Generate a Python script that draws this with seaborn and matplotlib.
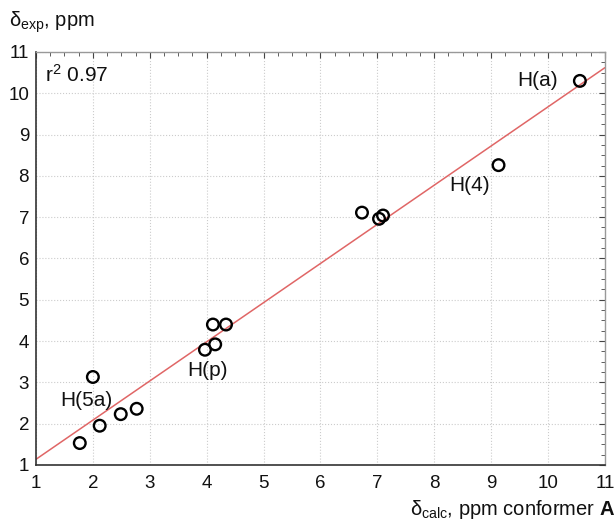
import numpy as np
import pandas as pd
import matplotlib
matplotlib.use('Agg')
import matplotlib.pyplot as plt
import seaborn as sns
from matplotlib.ticker import MultipleLocator

# calculated vs experimental shifts, ppm
delta_calc = [1.77, 2.00, 2.12, 2.49, 2.77, 3.97, 4.15, 4.11, 4.34,
              6.73, 7.03, 7.10, 9.13, 10.56]
delta_exp = [1.53, 3.13, 1.95, 2.23, 2.36, 3.79, 3.92, 4.40, 4.40,
             7.11, 6.96, 7.04, 8.26, 10.30]

label_text = ['H(a)', 'H(4)', 'H(5a)', 'H(p)']
label_x = [9.46, 8.27, 1.42, 3.66]
label_y = [10.32, 7.76, 2.57, 3.28]

sns.set_style('white')
plt.rcParams['font.family'] = ['Liberation Sans', 'DejaVu Sans']
plt.rcParams['mathtext.fontset'] = 'custom'
plt.rcParams['mathtext.rm'] = 'Liberation Sans'
plt.rcParams['mathtext.it'] = 'Liberation Sans:italic'
plt.rcParams['mathtext.bf'] = 'Liberation Sans:bold'

df = pd.DataFrame({'calc': delta_calc, 'exp': delta_exp})

fig = plt.figure(figsize=(6.16, 5.23), dpi=100)
ax = fig.add_axes([0.0584, 0.111, 0.9236, 0.7896])

# linear fit
slope, intercept = np.polyfit(df['calc'], df['exp'], 1)
xs = np.array([1, 11])
ax.plot(xs, slope * xs + intercept, color='#e06666', lw=1.1, zorder=2)

sns.scatterplot(data=df, x='calc', y='exp', ax=ax, s=70, marker='o',
                facecolors='none', edgecolor='black', linewidth=1.7, zorder=3)

for t, x, y in zip(label_text, label_x, label_y):
    ax.text(x, y, t, fontsize=15, color='#111111', va='center')

ax.text(1.16, 10.44, r'r$^2$ 0.97', fontsize=15, color='#111111', va='center')

ax.set_xlim(1, 11)
ax.set_ylim(1, 11)
ax.xaxis.set_major_locator(MultipleLocator(1))
ax.yaxis.set_major_locator(MultipleLocator(1))
ax.xaxis.set_minor_locator(MultipleLocator(0.25))
ax.yaxis.set_minor_locator(MultipleLocator(0.25))
ax.tick_params(which='both', direction='in', top=True, right=True,
               labelsize=13.5, colors='#444444', labelcolor='#111111')
ax.tick_params(which='major', length=4, width=0.8)
ax.tick_params(which='minor', length=3, width=0.6)
ax.tick_params(axis='x', pad=7)
ax.tick_params(axis='y', pad=5)
ax.grid(True, which='major', ls=':', color='#cccccc', lw=0.8)

for side in ['left', 'bottom']:
    ax.spines[side].set_color('#333333')
    ax.spines[side].set_linewidth(1.2)
for side in ['top', 'right']:
    ax.spines[side].set_color('#999999')
    ax.spines[side].set_linewidth(1.0)

ax.set_xlabel('')
ax.set_ylabel('')
fig.text(0.015, 0.958, 'δ$_{\\mathrm{exp}}$, ppm', fontsize=14.5,
         color='#111111', va='center')
fig.text(0.998, 0.025, 'δ$_{\\mathrm{calc}}$, ppm conformer $\\mathbf{A}$',
         fontsize=14.5, color='#111111', ha='right', va='center')

fig.savefig('out.png', dpi=100)
